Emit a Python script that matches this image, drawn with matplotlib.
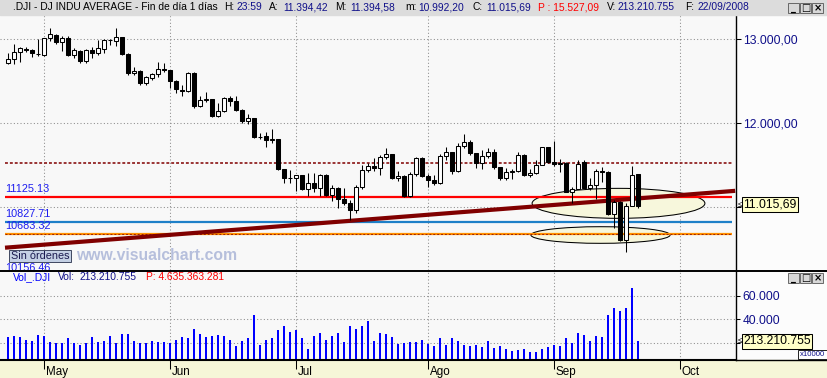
import matplotlib
matplotlib.use("Agg")
import matplotlib.pyplot as plt
from matplotlib.patches import Rectangle, Ellipse
from matplotlib.transforms import ScaledTranslation, blended_transform_factory
import numpy as np

plt.rcParams["font.family"] = ["Liberation Sans", "DejaVu Sans"]

# ==============================
# Data (.DJI daily, 23/04/2008 - 22/09/2008)
# ==============================
dates = [
    "04-23", "04-24", "04-25", "04-28", "04-29", "04-30",
    "05-01", "05-02", "05-05", "05-06", "05-07", "05-08", "05-09", "05-12", "05-13", "05-14",
    "05-15", "05-16", "05-19", "05-20", "05-21", "05-22", "05-23", "05-27", "05-28", "05-29", "05-30",
    "06-02", "06-03", "06-04", "06-05", "06-06", "06-09", "06-10", "06-11", "06-12", "06-13",
    "06-16", "06-17", "06-18", "06-19", "06-20", "06-23", "06-24", "06-25", "06-26", "06-27", "06-30",
    "07-01", "07-02", "07-03", "07-07", "07-08", "07-09", "07-10", "07-11", "07-14", "07-15", "07-16",
    "07-17", "07-18", "07-21", "07-22", "07-23", "07-24", "07-25", "07-28", "07-29", "07-30", "07-31",
    "08-01", "08-04", "08-05", "08-06", "08-07", "08-08", "08-11", "08-12", "08-13", "08-14", "08-15",
    "08-18", "08-19", "08-20", "08-21", "08-22", "08-25", "08-26", "08-27", "08-28", "08-29",
    "09-02", "09-03", "09-04", "09-05", "09-08", "09-09", "09-10", "09-11", "09-12", "09-15",
    "09-16", "09-17", "09-18", "09-19", "09-22",
]

opens = [
    12720, 12763, 12849, 12890, 12870, 12825,
    12813, 13012, 13055, 12965, 13018, 12815, 12866, 12745, 12875, 12832,
    12890, 12992, 12985, 13028, 12825, 12600, 12625, 12480, 12545, 12590, 12645,
    12637, 12503, 12400, 12390, 12600, 12205, 12278, 12288, 12085, 12145,
    12305, 12270, 12160, 12029, 12060, 11842, 11845, 11807, 11809, 11452, 11346,
    11346, 11380, 11214, 11288, 11232, 11384, 11147, 11229, 11101, 11055, 10963,
    11239, 11447, 11497, 11467, 11602, 11632, 11349, 11371, 11131, 11398, 11584,
    11378, 11326, 11284, 11616, 11656, 11431, 11734, 11782, 11642, 11533, 11616,
    11660, 11479, 11349, 11417, 11430, 11628, 11386, 11413, 11503, 11715,
    11545, 11517, 11533, 11188, 11221, 11536, 11231, 11269, 11434, 11420,
    10918, 11059, 10610, 11020, 11394,
]
highs = [
    12833, 12940, 12913, 12913, 12885, 13004,
    13015, 13130, 13060, 13040, 13040, 12900, 12870, 12890, 12910, 12990,
    13000, 13000, 13136, 13030, 12840, 12675, 12630, 12560, 12600, 12735, 12714,
    12640, 12510, 12456, 12610, 12605, 12325, 12377, 12295, 12245, 12315,
    12325, 12320, 12165, 12107, 12065, 11880, 11900, 11928, 11812, 11460, 11444,
    11385, 11390, 11404, 11405, 11400, 11400, 11260, 11240, 11230, 11090, 11260,
    11500, 11530, 11590, 11620, 11704, 11640, 11430, 11380, 11420, 11600, 11600,
    11400, 11380, 11640, 11720, 11660, 11760, 11873, 11800, 11650, 11680, 11700,
    11690, 11480, 11470, 11460, 11660, 11630, 11460, 11560, 11720, 11720,
    11790, 11580, 11540, 11240, 11560, 11560, 11350, 11450, 11480, 11430,
    11090, 11070, 11050, 11495, 11395,
]
lows = [
    12700, 12702, 12734, 12853, 12793, 12800,
    12805, 12975, 12945, 12855, 12800, 12775, 12720, 12720, 12780, 12810,
    12840, 12932, 12920, 12810, 12580, 12580, 12460, 12460, 12515, 12550, 12610,
    12420, 12360, 12325, 12370, 12185, 12190, 12258, 12075, 12070, 12140,
    12200, 12150, 12000, 11988, 11821, 11809, 11722, 11770, 11440, 11293, 11293,
    11190, 11206, 11135, 11180, 11140, 11140, 11080, 10990, 11030, 10849, 10930,
    11220, 11420, 11430, 11390, 11570, 11340, 11310, 11120, 11120, 11370, 11360,
    11240, 11260, 11280, 11560, 11400, 11420, 11710, 11620, 11470, 11460, 11590,
    11450, 11320, 11330, 11340, 11425, 11370, 11360, 11400, 11500, 11530,
    11490, 11420, 11180, 11052, 11220, 11230, 11200, 11100, 11300, 10910,
    10754, 10600, 10471, 11020, 10992,
]
closes = [
    12763, 12849, 12892, 12872, 12831, 12820,
    13010, 13058, 12970, 13021, 12814, 12867, 12746, 12876, 12832, 12898,
    12993, 12987, 13028, 12829, 12601, 12626, 12480, 12548, 12591, 12646, 12638,
    12504, 12403, 12390, 12604, 12210, 12280, 12290, 12084, 12142, 12307,
    12269, 12160, 12029, 12063, 11842, 11842, 11807, 11812, 11453, 11347, 11350,
    11382, 11215, 11288, 11232, 11384, 11147, 11229, 11101, 11055, 10963, 11239,
    11447, 11497, 11467, 11602, 11632, 11349, 11371, 11131, 11398, 11584, 11378,
    11326, 11284, 11616, 11656, 11431, 11734, 11782, 11642, 11533, 11616, 11660,
    11479, 11349, 11417, 11430, 11628, 11386, 11413, 11503, 11715, 11544,
    11517, 11533, 11188, 11221, 11511, 11231, 11269, 11434, 11422, 10918,
    11059, 10610, 11020, 11388, 11015.69,
]
# volume in units of 10000 shares
volumes = [
    24640, 25510, 24640, 22900, 22030, 26380,
    25510, 20870, 20000, 20000, 23770, 20000, 18550, 20000, 24640, 21160,
    22030, 25510, 20000, 27250, 27250, 22030, 20000, 20000, 22030, 20870, 20870,
    20290, 22900, 24640, 23770, 31600, 27250, 24640, 25510, 26380, 25510,
    22900, 17680, 22030, 23770, 43780, 18550, 22900, 23770, 30730, 34210, 28990,
    31020, 23770, 15070, 25510, 28120, 22900, 25510, 28120, 21160, 34210, 31600,
    34210, 38560, 22030, 28120, 27250, 24640, 19420, 20290, 21160, 21160, 22900,
    19420, 17680, 23770, 18550, 23770, 22030, 18550, 17680, 18550, 16810, 22030,
    15940, 17680, 15070, 13330, 14200, 15070, 12460, 12460, 15070, 16810,
    18550, 17680, 23770, 20290, 28120, 26380, 22030, 25510, 24640, 43780,
    49870, 47260, 49870, 66400, 21321.0755,
]

month_idx = [6, 27, 48, 70, 91, 112]
month_lbl = ["May", "Jun", "Jul", "Ago", "Sep", "Oct"]

levels = [11125.13, 10827.71, 10683.32]
level_colors = ["#ff0000", "#1e80c8", "#ff9000"]
low_label = 10156.46
resist = 11527
trend_x = [-0.5, 121.2]
trend_y = [10519, 11196]
ellipses = [(101.75, 11047, 28.8, 357), (98.75, 10670, 23.2, 198)]

price_grid = [11000, 12000, 13000]
vol_grid = [20000, 40000, 60000]

NAVY = "#10108a"
W, H, DPI = 828, 378, 100


def eu(v, dec):
    s = f"{v:,.{dec}f}"
    return s.replace(",", "X").replace(".", ",").replace("X", ".")


def frac(x0, y0, x1, y1):
    return [x0 / W, 1 - y1 / H, (x1 - x0) / W, (y1 - y0) / H]


fig = plt.figure(figsize=(W / DPI, H / DPI), dpi=DPI, facecolor="#fcfcfc")

bg = fig.add_axes([0, 0, 1, 1], zorder=0)
bg.set_xlim(0, W)
bg.set_ylim(H, 0)
bg.axis("off")
bg.add_patch(Rectangle((0, 360), W, 18, color="#f6f6d8"))

ax = fig.add_axes(frac(0, 15, 736, 270), zorder=1, facecolor="#f8f8f8")
vx = fig.add_axes(frac(0, 271, 736, 360), zorder=1, facecolor="#f8f8f8")
ov = fig.add_axes([0, 0, 1, 1], zorder=2)
ov.set_xlim(0, W)
ov.set_ylim(H, 0)
ov.axis("off")

GRID = dict(color="#8c8c8c", lw=0.75, ls=(0, (1, 2.2)))
XLIM = (-4 / 3, 728 / 6)

# ==============================
# Price panel
# ==============================
x = np.arange(len(closes))
o = np.array(opens, float)
c = np.array(closes, float)
up = c >= o

for e in ellipses:
    ax.add_patch(Ellipse(e[:2], e[2], e[3], fc="#f7f7dc", ec="black", lw=0.75, zorder=1))

ax.hlines(resist, -0.5, 120.7, colors="#800000", lw=1.1, linestyles=(0, (1.9, 1.3)), zorder=2)
ax.hlines(levels, -0.5, 120.7, colors=level_colors, lw=1.6, zorder=2)
ax.hlines(levels[2], -0.5, 120.7, colors="#a02000", lw=0.7, linestyles=(0, (2, 2)), zorder=2.1)
ax.plot(trend_x, trend_y, color="#800000", lw=3.0, solid_capstyle="butt", zorder=2.5)

ax.vlines(x, lows, highs, color="black", lw=0.75, zorder=3)
ax.bar(x, np.abs(c - o), bottom=np.minimum(o, c), width=0.7,
       color=np.where(up, "white", "black"), edgecolor="black", lw=0.75, zorder=4)

lab_tr = blended_transform_factory(ax.transAxes, ax.transData)
for lv in levels:
    ax.text(5 / 736, lv, f"{lv:.2f}", transform=lab_tr + ScaledTranslation(0, 7.7 / DPI, fig.dpi_scale_trans),
            color="#1c1cf0", fontsize=7.8, va="center", ha="left", zorder=6)
ax.text(5 / 736, low_label, f"{low_label:.2f}",
        transform=lab_tr + ScaledTranslation(0, 10.5 / DPI, fig.dpi_scale_trans),
        color="#1c1cf0", fontsize=7.8, va="center", ha="left", zorder=6, clip_on=True)

ax.set_xlim(*XLIM)
ax.set_ylim(10253.5, 13289.3)
ax.set_xticks(month_idx)
ax.set_yticks(price_grid)
ax.set_yticklabels(["" if v == 11000 else eu(v, 2) for v in price_grid])
ax.yaxis.tick_right()
ax.tick_params(axis="x", bottom=False, labelbottom=False)
ax.tick_params(axis="y", length=3.6, width=0.75, color="black", labelcolor=NAVY, labelsize=8.7, pad=1.5)
ax.grid(True, **GRID)
ax.set_axisbelow(True)
for s in ["left", "top"]:
    ax.spines[s].set_visible(False)
ax.spines["right"].set_linewidth(1.0)
ax.spines["bottom"].set_visible(False)

ax.annotate(eu(closes[-1], 2), xy=(1, closes[-1]), xycoords=lab_tr, xytext=(5.2, 1.2),
            textcoords="offset points", ha="left", va="center", fontsize=8.7, color="black",
            bbox=dict(boxstyle="square,pad=0.12", fc="#ffffc8", ec="black", lw=0.75),
            annotation_clip=False, zorder=7)
ax.annotate("≤", xy=(1, closes[-1]), xycoords=lab_tr, xytext=(1.2, 0), textcoords="offset points",
            ha="left", va="center", fontsize=5.5, annotation_clip=False)

# ==============================
# Volume panel
# ==============================
vx.bar(x, volumes, width=0.2, color="#0000ff", lw=0)
vx.set_xlim(*XLIM)
vx.set_ylim(5581, 80846)
vx.set_yticks(vol_grid)
vx.set_yticklabels(["" if v == 20000 else eu(v, 0) for v in vol_grid])
vx.yaxis.tick_right()
vx.tick_params(axis="y", length=3.0, width=0.75, color="black", labelcolor=NAVY, labelsize=8.7, pad=1.5)
vx.set_xticks(month_idx)
vx.set_xticklabels(month_lbl)
vx.tick_params(axis="x", direction="out", length=6.5, width=0.75, color="black", pad=-2.4, labelsize=8.4)
for lab in vx.get_xticklabels():
    lab.set_ha("left")
    lab.set_transform(lab.get_transform() + ScaledTranslation(2 / DPI, 0, fig.dpi_scale_trans))
vx.grid(True, **GRID)
vx.set_axisbelow(True)
for s in ["left", "top"]:
    vx.spines[s].set_visible(False)
vx.spines["right"].set_linewidth(1.0)
vx.spines["bottom"].set_linewidth(1.5)

vtr = blended_transform_factory(vx.transAxes, vx.transData)
vx.annotate(eu(volumes[-1] * 10000, 0), xy=(1, volumes[-1]), xycoords=vtr, xytext=(5.2, 0),
            textcoords="offset points", ha="left", va="center", fontsize=8.7, color="black",
            bbox=dict(boxstyle="square,pad=0.12", fc="#ffffc8", ec="black", lw=0.75),
            annotation_clip=False, zorder=7)
vx.annotate("≤", xy=(1, volumes[-1]), xycoords=vtr, xytext=(1.2, 0), textcoords="offset points",
            ha="left", va="center", fontsize=5.5, annotation_clip=False)

# ==============================
# Frame, headers, decorations
# ==============================
ov.add_patch(Rectangle((0, 0), W, 15, color="#dcdcdc"))
ov.plot([0, W], [270.5, 270.5], color="black", lw=1.4)
ov.plot([736, W], [360.3, 360.3], color="black", lw=1.0)

hdr = [
    (12.7, ".DJI - DJ INDU AVERAGE - Fin de día 1 días", "black"),
    (224, "H:", "black"), (237, "23:59", NAVY),
    (269, "A:", "black"), (283, "11.394,42", NAVY),
    (335, "M:", "black"), (350, "11.394,58", NAVY),
    (405, "m:", "black"), (418, "10.992,20", NAVY),
    (473, "C:", "black"), (486, eu(closes[-1], 2), NAVY),
    (538, "P : 15.527,09", "#ff0000"),
    (607, "V:", "black"), (618, eu(volumes[-1] * 10000, 0), NAVY),
    (685, "F:", "black"), (698, "22/09/2008", NAVY),
]
for hx, t, col in hdr:
    ov.text(hx, 7.2, t, color=col, fontsize=7.4, va="center", ha="left")

vhdr = [
    (13.3, "Vol_.DJI", "#0000ff"), (58, "Vol:", NAVY),
    (80, eu(volumes[-1] * 10000, 0), NAVY), (146, "P: 4.635.363.281", "#ff0000"),
]
for hx, t, col in vhdr:
    ov.text(hx, 277, t, color=col, fontsize=7.4, va="center", ha="left")

for by in (3, 273):
    for k, g in enumerate(["_", "□", "×"]):
        bx = 788 + 12 * k
        ov.add_patch(Rectangle((bx, by), 11, 10, fc="#d8d8d8", ec="#555555", lw=0.6))
        ov.text(bx + 5.5, by + 5, g, fontsize=7, ha="center", va="center", color="black",
                family=["DejaVu Sans"], fontweight="bold")

ov.add_patch(Rectangle((9.5, 249.5), 62, 12.5, fc="#c4d0e4", ec="#404860", lw=0.7))
ov.text(40.5, 255.8, "Sin órdenes", fontsize=7.8, ha="center", va="center", color="#1a1a50")
ov.text(76, 256, "www.visualchart.com", fontsize=11.3, fontweight="bold", color="#b6bfdc",
        ha="left", va="center")

ov.add_patch(Rectangle((798, 349.5), 29.5, 9, fc="white", ec="black", lw=0.6))
ov.text(812.8, 354, "x10000", fontsize=5.6, ha="center", va="center", color=NAVY)

fig.savefig("out.png", dpi=DPI, facecolor=fig.get_facecolor())
